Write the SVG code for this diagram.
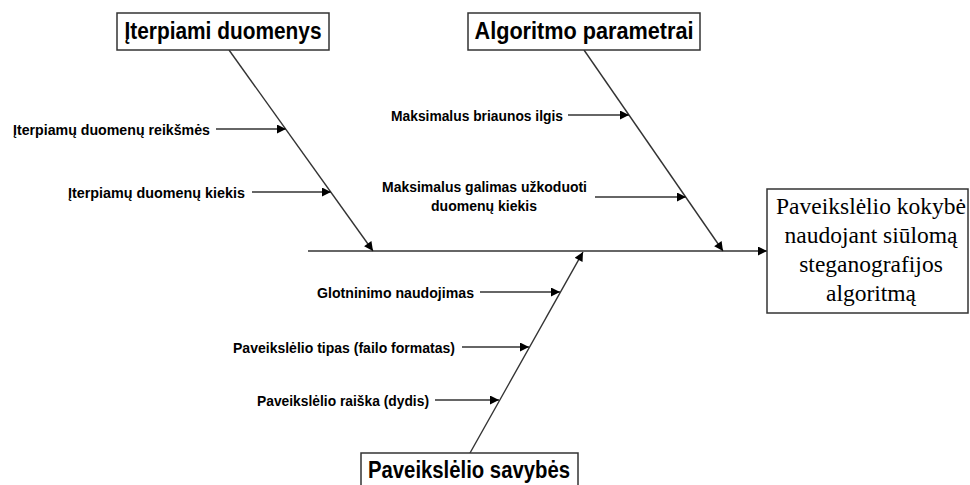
<svg xmlns="http://www.w3.org/2000/svg" width="970" height="485" viewBox="0 0 970 485">
<defs>
<marker id="ah" viewBox="0 0 10 10" refX="10" refY="5" markerWidth="11" markerHeight="9" markerUnits="userSpaceOnUse" orient="auto">
<path d="M0,0 L10,5 L0,10 Z" fill="#000"/>
</marker>
</defs>
<style>
.box{fill:#fff;stroke:#333;stroke-width:1.5}
.ln{stroke:#333;stroke-width:1.4;fill:none;marker-end:url(#ah)}
.hd{font-family:"Liberation Sans",Arial,sans-serif;font-weight:bold;font-size:23px;fill:#000;text-anchor:middle}
.lb{font-family:"Liberation Sans",Arial,sans-serif;font-weight:bold;font-size:15.5px;fill:#000}
.rs{font-family:"Liberation Serif","Times New Roman",serif;font-size:23.5px;fill:#000;text-anchor:middle}
</style>
<rect width="970" height="485" fill="#fff"/>
<g id="connectors">
<line class="ln" x1="308" y1="251" x2="767" y2="251"/>
<line class="ln" x1="229" y1="50" x2="373" y2="251"/>
<line class="ln" x1="584" y1="50" x2="723" y2="251"/>
<line class="ln" x1="470" y1="453" x2="583" y2="252"/>
<line class="ln" x1="216" y1="129" x2="286" y2="129"/>
<line class="ln" x1="252" y1="192" x2="331" y2="192"/>
<line class="ln" x1="568" y1="115" x2="629" y2="115"/>
<line class="ln" x1="595" y1="197" x2="686" y2="197"/>
<line class="ln" x1="480" y1="292" x2="560" y2="292"/>
<line class="ln" x1="462" y1="347" x2="529" y2="347"/>
<line class="ln" x1="435" y1="400" x2="499" y2="400"/>
</g>
<g id="n-iterpiami">
<rect class="box" x="117" y="13" width="212" height="37"/>
<text class="hd" x="223" y="39" textLength="197" lengthAdjust="spacingAndGlyphs">Įterpiami duomenys</text>
</g>
<g id="n-algoritmo">
<rect class="box" x="468" y="13" width="232" height="37"/>
<text class="hd" x="584" y="39" textLength="219" lengthAdjust="spacingAndGlyphs">Algoritmo parametrai</text>
</g>
<g id="n-savybes">
<rect class="box" x="361" y="453" width="217" height="40"/>
<text class="hd" x="469" y="478" textLength="202" lengthAdjust="spacingAndGlyphs">Paveikslėlio savybės</text>
</g>
<g id="n-kokybe">
<rect class="box" x="767" y="189" width="201" height="124"/>
<text class="rs" x="871" y="214">Paveikslėlio kokybė</text>
<text class="rs" x="871" y="243">naudojant siūlomą</text>
<text class="rs" x="871" y="272">steganografijos</text>
<text class="rs" x="871" y="301">algoritmą</text>
</g>
<g id="labels">
<text class="lb" x="13" y="135" textLength="197" lengthAdjust="spacingAndGlyphs">Įterpiamų duomenų reikšmės</text>
<text class="lb" x="68" y="198" textLength="177" lengthAdjust="spacingAndGlyphs">Įterpiamų duomenų kiekis</text>
<text class="lb" x="391" y="121" textLength="172" lengthAdjust="spacingAndGlyphs">Maksimalus briaunos ilgis</text>
<text class="lb" x="382" y="192" textLength="205" lengthAdjust="spacingAndGlyphs">Maksimalus galimas užkoduoti</text>
<text class="lb" x="431" y="211" textLength="106" lengthAdjust="spacingAndGlyphs">duomenų kiekis</text>
<text class="lb" x="317" y="298" textLength="157" lengthAdjust="spacingAndGlyphs">Glotninimo naudojimas</text>
<text class="lb" x="233" y="353" textLength="222" lengthAdjust="spacingAndGlyphs">Paveikslėlio tipas (failo formatas)</text>
<text class="lb" x="257" y="406" textLength="172" lengthAdjust="spacingAndGlyphs">Paveikslėlio raiška (dydis)</text>
</g>
</svg>
